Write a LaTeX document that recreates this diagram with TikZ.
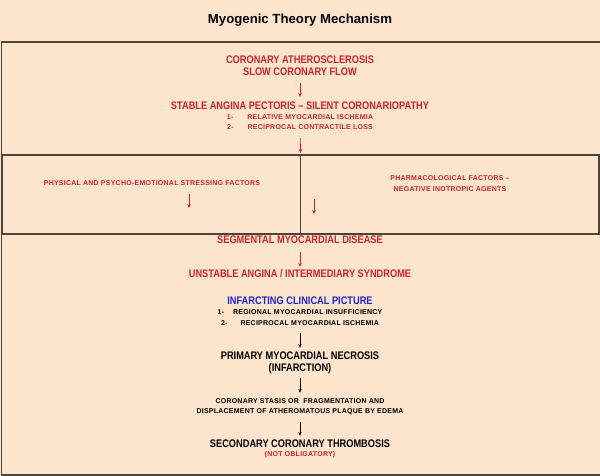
\documentclass[tikz,border=0pt]{standalone}
\usepackage{fontspec}
\setmainfont{Liberation Sans}
\newfontfamily\narrowsans{Liberation Sans}[FakeStretch=0.84,Ligatures=TeX]
\newfontfamily\widesans{Liberation Sans}[LetterSpace=3.5,Ligatures=TeX]
\usepackage{tikz}
\usetikzlibrary{arrows.meta}
\definecolor{peach}{RGB}{253,229,205}
\definecolor{flowred}{RGB}{205,35,45}
\definecolor{flowblue}{RGB}{35,35,205}
\definecolor{framegray}{RGB}{75,68,60}

\begin{document}
\begin{tikzpicture}[x=1pt,y=-1pt,
		>={Stealth[length=4pt,width=3.4pt]},
		head/.style={inner sep=0pt, text height=7.9pt, text depth=0pt,
			font=\narrowsans\bfseries\fontsize{11}{13}\selectfont},
		small/.style={inner sep=0pt, text height=5pt, text depth=0pt,
			font=\widesans\bfseries\fontsize{7}{8}\selectfont},
		redarrow/.style={->, flowred, line width=0.9pt},
		blackarrow/.style={->, black, line width=0.9pt},
		frame/.style={framegray, line width=1.3pt}]
		%% Page and frames, coordinates in pixels of the 600x476 sheet
		\fill[peach] (0,0) rectangle (600,476);
		\useasboundingbox (0,0) rectangle (600,476);
		\draw[frame] (601,42) -- (1.5,42) -- (1.5,475) -- (601,475);
		\draw[frame] (2,155) rectangle (599,234);
		\draw[frame] (300.5,155) -- (300.5,234);
		\coordinate (split) at (300.5,155);
		
		%% Title
		\node[anchor=base, inner sep=0pt, font=\bfseries\fontsize{13.2}{15}\selectfont]
			(title) at (300,24) {Myogenic Theory Mechanism};
		
		% Chronic stage
		\node[head, text=flowred] (athero) at (300,60) {CORONARY ATHEROSCLEROSIS};
		\node[head, text=flowred] (flow) at (300,72) {SLOW CORONARY FLOW};
		\node[head, text=flowred] (stable) at (300,106)
			{STABLE ANGINA PECTORIS – SILENT CORONARIOPATHY};
		\node[small, text=flowred] (relative) at (300,117)
			{1-\hspace{14pt}RELATIVE MYOCARDIAL ISCHEMIA};
		\node[small, text=flowred] (loss) at (300,127)
			{2-\hspace{14pt}RECIPROCAL CONTRACTILE LOSS};
		\draw[redarrow, shorten <=7pt, shorten >=5pt] (flow) -- (stable);
		\draw[redarrow, shorten <=8.5pt, shorten >=2pt] (loss) -- (split);
		
		% Triggering factors
		\node[small, text=flowred] (stress) at (152,183)
			{PHYSICAL AND PSYCHO-EMOTIONAL STRESSING FACTORS};
		\node[small, text=flowred] (pharma) at (450,178) {PHARMACOLOGICAL FACTORS –};
		\node[small, text=flowred] (inotrop) at (450,189) {NEGATIVE INOTROPIC AGENTS};
		\coordinate (stressfoot) at (189,208);
		\coordinate (pharmafoot) at (314,214);
		\draw[redarrow, shorten <=8.5pt] (stress.south -| stressfoot) -- (stressfoot);
		\draw[redarrow, shorten <=7.5pt] (inotrop.south -| pharmafoot) -- (pharmafoot);
		
		% Acute stage
		\node[head, text=flowred] (segment) at (300,240) {SEGMENTAL MYOCARDIAL DISEASE};
		\node[head, text=flowred] (unstable) at (300,274)
			{UNSTABLE ANGINA / INTERMEDIARY SYNDROME};
		\draw[redarrow, shorten <=8pt, shorten >=3pt] (segment) -- (unstable);
		
		\node[head, text=flowblue] (infarct) at (300,301) {INFARCTING CLINICAL PICTURE};
		\node[small] (regional) at (300,312)
			{1-\hspace{9pt}REGIONAL MYOCARDIAL INSUFFICIENCY};
		\node[small] (reciproc) at (300,323)
			{2-\hspace{13pt}RECIPROCAL MYOCARDIAL ISCHEMIA};
		\node[head] (necrosis) at (300,356) {PRIMARY MYOCARDIAL NECROSIS};
		\node[head] (infarction) at (300,368) {(INFARCTION)};
		\draw[blackarrow, shorten <=7.5pt, shorten >=4pt] (reciproc) -- (necrosis);
		
		\node[small] (stasis) at (300,401) {CORONARY STASIS OR \ FRAGMENTATION AND};
		\node[small] (plaque) at (300,411) {DISPLACEMENT OF ATHEROMATOUS PLAQUE BY EDEMA};
		\draw[blackarrow, shorten <=6pt, shorten >=5.5pt] (infarction) -- (stasis);
		
		\node[head] (thrombo) at (300,444) {SECONDARY CORONARY THROMBOSIS};
		\node[small, text=flowred] (notoblig) at (300,454) {(NOT OBLIGATORY)};
		\draw[blackarrow, shorten <=8.5pt, shorten >=4pt] (plaque) -- (thrombo);
	\end{tikzpicture}
\end{document}
